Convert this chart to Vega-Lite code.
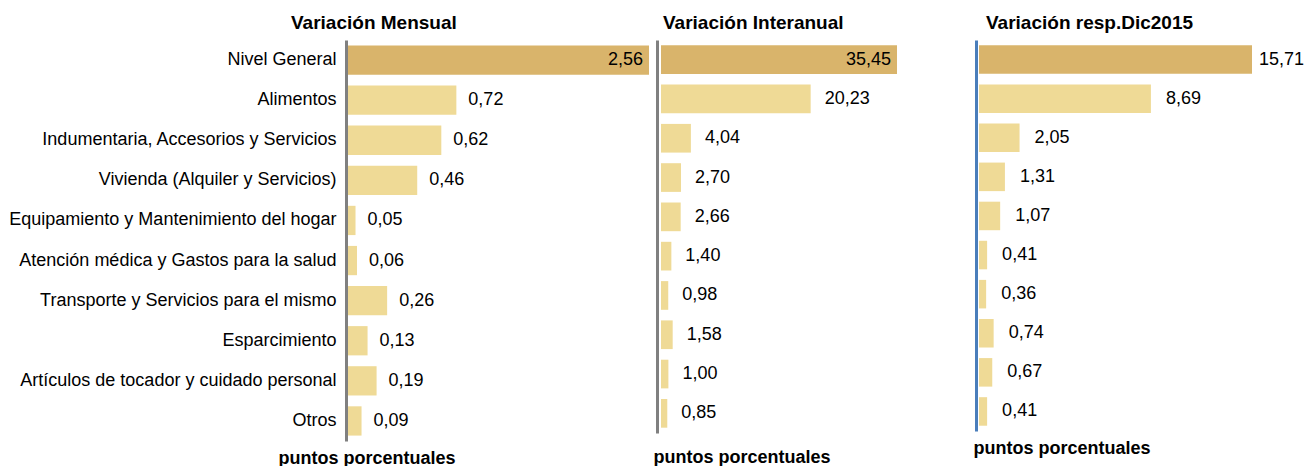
{
  "$schema": "https://vega.github.io/schema/vega-lite/v6.json",
  "padding": {"left": 8, "top": 14, "right": 0, "bottom": 0},
  "datasets": {
    "ipc": [
      {"cat": "Nivel General", "m": 2.56, "i": 35.45, "d": 15.71},
      {"cat": "Alimentos", "m": 0.72, "i": 20.23, "d": 8.69},
      {"cat": "Indumentaria, Accesorios y Servicios", "m": 0.62, "i": 4.04, "d": 2.05},
      {"cat": "Vivienda (Alquiler y Servicios)", "m": 0.46, "i": 2.70, "d": 1.31},
      {"cat": "Equipamiento y Mantenimiento del hogar", "m": 0.05, "i": 2.66, "d": 1.07},
      {"cat": "Atención médica y Gastos para la salud", "m": 0.06, "i": 1.40, "d": 0.41},
      {"cat": "Transporte y Servicios para el mismo", "m": 0.26, "i": 0.98, "d": 0.36},
      {"cat": "Esparcimiento", "m": 0.13, "i": 1.58, "d": 0.74},
      {"cat": "Artículos de tocador y cuidado personal", "m": 0.19, "i": 1.00, "d": 0.67},
      {"cat": "Otros", "m": 0.09, "i": 0.85, "d": 0.41}
    ]
  },
  "data": {"name": "ipc"},
  "spacing": 12,
  "bounds": "flush",
  "hconcat": [
    {
      "width": 301,
      "height": 401,
      "title": {"text": "Variación Mensual", "anchor": "start", "frame": "group", "dx": -57, "fontSize": 19, "fontWeight": "bold", "offset": 7, "color": "#000000"},
      "encoding": {
        "y": {"field": "cat", "type": "nominal", "sort": null,
          "scale": {"paddingInner": 0.27, "paddingOuter": 0.135},
          "axis": {"title": null, "ticks": false, "labelFontSize": 18, "labelPadding": 10, "labelColor": "#000000", "labelLimit": 400, "domainColor": "#808080", "domainWidth": 3, "offset": 2}}
      },
      "layer": [
        {
          "mark": {"type": "bar"},
          "encoding": {
            "x": {"field": "m", "type": "quantitative", "scale": {"domain": [0, 2], "clamp": true, "nice": false},
              "axis": {"title": "puntos porcentuales", "labels": false, "ticks": false, "domain": false, "grid": false, "titleFontSize": 18, "titleFontWeight": "bold", "titleColor": "#000000", "titleX": -70, "titleY": 17, "titleAlign": "left", "titleBaseline": "middle"}},
            "color": {"condition": {"test": "datum.cat === 'Nivel General'", "value": "#D9B46B"}, "value": "#EFDA96"}
          }
        },
        {
          "transform": [{"filter": "datum.cat !== 'Nivel General'"}],
          "mark": {"type": "text", "align": "left", "dx": 12, "fontSize": 18, "color": "#000000"},
          "encoding": {"x": {"field": "m", "type": "quantitative"}, "text": {"field": "m", "type": "quantitative", "format": ".2f"}}
        },
        {
          "transform": [{"filter": "datum.cat === 'Nivel General'"}],
          "mark": {"type": "text", "align": "right", "dx": -6, "fontSize": 18, "color": "#000000"},
          "encoding": {"x": {"field": "m", "type": "quantitative"}, "text": {"field": "m", "type": "quantitative", "format": ".2f"}}
        }
      ]
    },
    {
      "width": 236,
      "height": 393,
      "title": {"text": "Variación Interanual", "anchor": "start", "frame": "group", "dx": 2, "fontSize": 19, "fontWeight": "bold", "offset": 7, "color": "#000000"},
      "encoding": {
        "y": {"field": "cat", "type": "nominal", "sort": null,
          "scale": {"paddingInner": 0.27, "paddingOuter": 0.135},
          "axis": {"title": null, "ticks": false, "labels": false, "domainColor": "#808080", "domainWidth": 3, "offset": 4}}
      },
      "layer": [
        {
          "mark": {"type": "bar"},
          "encoding": {
            "x": {"field": "i", "type": "quantitative", "scale": {"domain": [0, 31.9], "clamp": true, "nice": false},
              "axis": {"title": "puntos porcentuales", "labels": false, "ticks": false, "domain": false, "grid": false, "titleFontSize": 18, "titleFontWeight": "bold", "titleColor": "#000000", "titleX": -8, "titleY": 24, "titleAlign": "left", "titleBaseline": "middle"}},
            "color": {"condition": {"test": "datum.cat === 'Nivel General'", "value": "#D9B46B"}, "value": "#EFDA96"}
          }
        },
        {
          "transform": [{"filter": "datum.cat !== 'Nivel General'"}],
          "mark": {"type": "text", "align": "left", "dx": 14, "fontSize": 18, "color": "#000000"},
          "encoding": {"x": {"field": "i", "type": "quantitative"}, "text": {"field": "i", "type": "quantitative", "format": ".2f"}}
        },
        {
          "transform": [{"filter": "datum.cat === 'Nivel General'"}],
          "mark": {"type": "text", "align": "right", "dx": -6, "fontSize": 18, "color": "#000000"},
          "encoding": {"x": {"field": "i", "type": "quantitative"}, "text": {"field": "i", "type": "quantitative", "format": ".2f"}}
        }
      ]
    },
    {
      "width": 343,
      "height": 391,
      "title": {"text": "Variación resp.Dic2015", "anchor": "start", "frame": "group", "dx": 77, "fontSize": 19, "fontWeight": "bold", "offset": 7, "color": "#000000"},
      "encoding": {
        "y": {"field": "cat", "type": "nominal", "sort": null,
          "scale": {"paddingInner": 0.27, "paddingOuter": 0.135},
          "axis": {"title": null, "ticks": false, "labels": false, "domainColor": "#4A7EBB", "domainWidth": 3, "offset": -67}}
      },
      "layer": [
        {
          "mark": {"type": "bar"},
          "encoding": {
            "x": {"field": "d", "type": "quantitative", "scale": {"domain": [-3.539, 13.8], "clamp": true, "nice": false, "zero": false},
              "axis": {"title": "puntos porcentuales", "labels": false, "ticks": false, "domain": false, "grid": false, "titleFontSize": 18, "titleFontWeight": "bold", "titleColor": "#000000", "titleX": 64, "titleY": 17, "titleAlign": "left", "titleBaseline": "middle"}},
            "color": {"condition": {"test": "datum.cat === 'Nivel General'", "value": "#D9B46B"}, "value": "#EFDA96"}
          }
        },
        {
          "transform": [{"filter": "datum.cat !== 'Nivel General'"}],
          "mark": {"type": "text", "align": "left", "dx": 15, "fontSize": 18, "color": "#000000"},
          "encoding": {"x": {"field": "d", "type": "quantitative"}, "text": {"field": "d", "type": "quantitative", "format": ".2f"}}
        },
        {
          "transform": [{"filter": "datum.cat === 'Nivel General'"}],
          "mark": {"type": "text", "align": "left", "dx": 7, "fontSize": 18, "color": "#000000"},
          "encoding": {"x": {"field": "d", "type": "quantitative"}, "text": {"field": "d", "type": "quantitative", "format": ".2f"}}
        }
      ]
    }
  ],
  "config": {
    "font": "Liberation Sans",
    "view": {"stroke": null},
    "locale": {"number": {"decimal": ",", "thousands": ".", "grouping": [3], "currency": ["", " €"]}},
    "axis": {"grid": false}
  }
}
